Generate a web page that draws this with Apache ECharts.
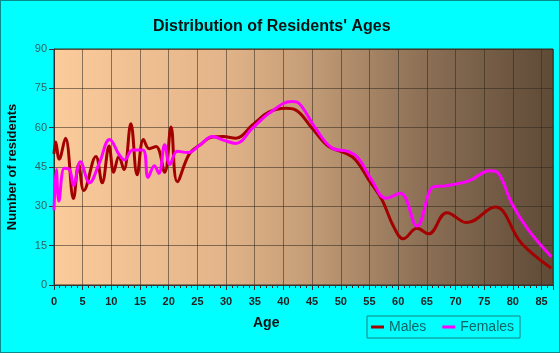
<!DOCTYPE html>
<html>
<head>
<meta charset="utf-8">
<script src="https://cdn.jsdelivr.net/npm/echarts@6/dist/echarts.min.js"></script>
<style>
  html, body { margin: 0; padding: 0; background: #00FFFF; }
  #wrap { position: relative; width: 560px; height: 353px; }
  #chart { width: 560px; height: 353px; }
  #frame { position: absolute; left: 0; top: 0; width: 558px; height: 351px; border: 1px solid #0a8a8a; pointer-events: none; }
</style>
</head>
<body>
<div id="wrap">
  <div id="chart"></div>
  <div id="frame"></div>
</div>
<script>
// ages (x positions of the curve's turns)
const maleAges = [0, 0.3, 0.9, 2, 3.4, 4.3, 5.2, 7.3, 8.4, 9.6, 10.4, 11.3, 12.2, 13.4, 14.5, 15.6, 16.6, 17.8, 19.3, 20.4, 21.5, 23.6, 25.5, 27.6, 29.5, 31.7, 34.6, 37.5, 40.4, 42.1, 45, 47.9, 50.8, 52.6, 54.9, 57.2, 59.2, 60.9, 63.3, 65.3, 68.5, 72, 76.9, 81.5, 86.7];
const maleValues = [50, 54.5, 48, 56, 33, 46, 36, 49, 39, 53, 43, 49, 44, 61.5, 42, 55.5, 52, 52.8, 43, 60.3, 39.4, 50, 53.5, 56.4, 56.6, 56, 61, 66, 67.4, 66.8, 59.8, 52.8, 50.3, 47.7, 40, 32.4, 22.3, 17.6, 21.6, 19.5, 27.6, 23.8, 29.7, 15.9, 6.4];

const femaleAges = [0, 0.4, 0.85, 1.8, 2.7, 3.4, 4.6, 6.2, 7.9, 9.7, 11.4, 12.3, 13.7, 15.5, 16.4, 17.5, 18.3, 19.3, 20.2, 21.5, 23.3, 25.5, 27.6, 29.5, 31.7, 34.6, 37.5, 41.5, 42.7, 45.6, 48.5, 51.4, 53.1, 55.4, 57.9, 60.4, 63.3, 66.2, 68.2, 72.3, 76, 77.5, 79.8, 82.7, 86.7];
const femaleValues = [28.5, 44, 32, 44.5, 44, 38, 47, 39, 46.5, 55.5, 49.6, 47.7, 51.5, 51.5, 41, 45.5, 42.6, 53.5, 46, 51, 50.5, 53.5, 56.6, 55.3, 54, 59.8, 65.5, 70, 69.3, 59.8, 52.2, 50.9, 48.3, 40, 33.1, 35, 22.5, 37.5, 37.8, 39.7, 43.6, 42.6, 31.2, 21, 10.8];

const yTicks = [0, 15, 30, 45, 60, 75, 90];

const chart = echarts.init(document.getElementById('chart'));

const font = '"Liberation Sans", Arial, sans-serif';

chart.setOption({
  animation: false,
  backgroundColor: '#00FFFF',
  title: {
    text: "Distribution of Residents' Ages",
    left: 148,
    top: 14,
    textStyle: { fontFamily: font, fontSize: 16, fontWeight: 'bold', color: '#111' }
  },
  legend: {
    data: ['Males', 'Females'],
    left: 367,
    top: 316,
    padding: [4, 6, 4, 4],
    itemGap: 16,
    itemWidth: 13,
    itemHeight: 3,
    icon: 'rect',
    borderColor: '#1a8080',
    borderWidth: 1,
    textStyle: { fontFamily: font, fontSize: 14, color: '#0d6666' }
  },
  grid: {
    left: 54,
    right: 7,
    top: 49,
    bottom: 68,
    containLabel: false,
    outerBoundsMode: 'none',
    show: true,
    borderWidth: 1,
    borderColor: '#3a3020',
    backgroundColor: new echarts.graphic.LinearGradient(0, 0, 1, 0, [
      { offset: 0, color: '#FBCB9B' },
      { offset: 0.33, color: '#E4B58A' },
      { offset: 0.5, color: '#C69E78' },
      { offset: 0.73, color: '#8E7157' },
      { offset: 1, color: '#5E4A36' }
    ])
  },
  graphic: [{
    type: 'text',
    left: 253,
    top: 316,
    style: { text: 'Age', fontFamily: font, fontSize: 14, fontWeight: 'bold', fill: '#111' }
  }],
  xAxis: {
    type: 'value',
    min: 0,
    max: 87,
    interval: 5,
    axisLine: { show: true, lineStyle: { color: '#333', width: 1 } },
    axisTick: { show: true, length: 5, lineStyle: { color: '#333' } },
    minorTick: { show: true, splitNumber: 5, length: 3, lineStyle: { color: '#333' } },
    axisLabel: {
      margin: 11,
      fontFamily: font,
      fontSize: 11,
      fontWeight: 'bold',
      color: '#222',
      formatter: v => (v % 5 === 0 ? String(v) : '')
    },
    splitLine: { show: true, lineStyle: { color: 'rgba(50,40,30,0.55)', width: 1 } }
  },
  yAxis: {
    type: 'value',
    min: yTicks[0],
    max: yTicks[yTicks.length - 1],
    interval: 15,
    name: 'Number of residents',
    nameLocation: 'middle',
    nameGap: 35,
    nameTextStyle: { fontFamily: font, fontSize: 13, fontWeight: 'bold', color: '#111' },
    axisLine: { show: true, lineStyle: { color: '#333', width: 1 } },
    axisTick: { show: true, length: 5, lineStyle: { color: '#333' } },
    axisLabel: { margin: 7, fontFamily: font, fontSize: 11, color: '#2f6060' },
    splitLine: { show: true, lineStyle: { color: 'rgba(50,40,30,0.55)', width: 1 } }
  },
  series: [
    {
      name: 'Males',
      type: 'line',
      smooth: 0.4,
      showSymbol: false,
      color: '#A30000',
      lineStyle: { width: 3, color: '#A30000' },
      data: maleAges.map((a, i) => [a, maleValues[i]])
    },
    {
      name: 'Females',
      type: 'line',
      smooth: 0.4,
      showSymbol: false,
      color: '#FF00FF',
      lineStyle: { width: 3, color: '#FF00FF' },
      data: femaleAges.map((a, i) => [a, femaleValues[i]])
    }
  ]
});
</script>
</body>
</html>
